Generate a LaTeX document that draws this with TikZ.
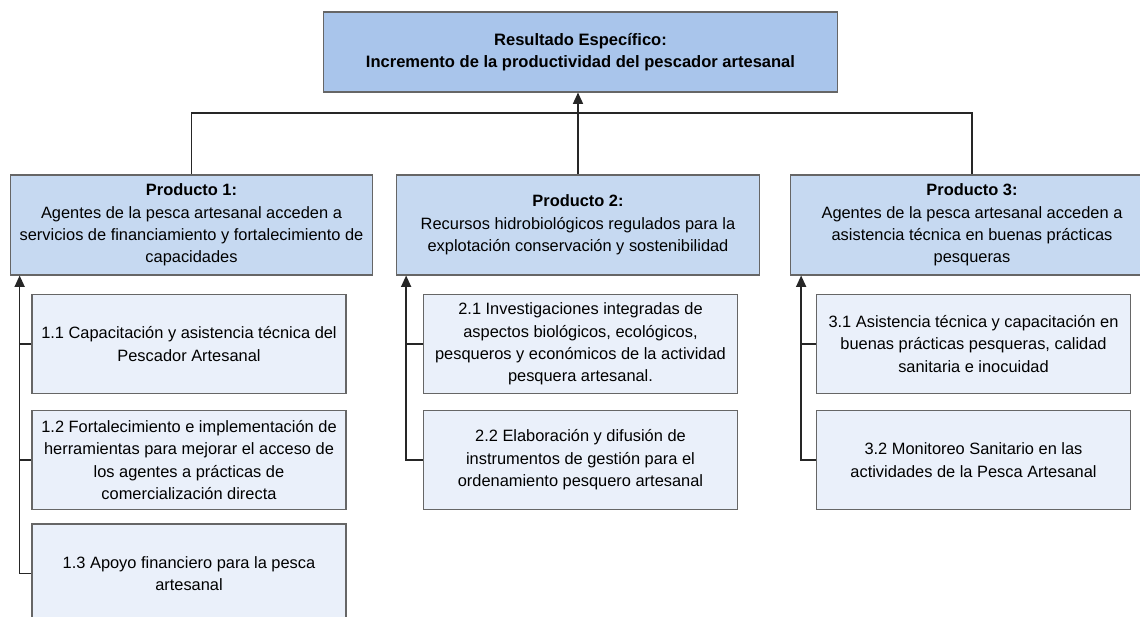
\documentclass[tikz,border=0pt]{standalone}
\usepackage{fontspec}
\setmainfont{Liberation Sans}
\usetikzlibrary{arrows.meta}

\definecolor{azulA}{HTML}{A9C5EB}
\definecolor{azulB}{HTML}{C6D9F1}
\definecolor{azulC}{HTML}{EAF0FA}

\begin{document}
\begin{tikzpicture}[
        x=0.75pt, y=-0.75pt,
        font=\fontsize{12.3}{16.8}\selectfont,
        caja/.style={
            draw=black!60,
            line width=0.8pt,
            align=center,
            inner sep=0pt
        },
        resultado/.style={caja, fill=azulA, minimum width=386pt, minimum height=60pt,
            font=\bfseries\fontsize{12.4}{16.5}\selectfont},
        producto/.style={caja, fill=azulB, minimum width=272pt, minimum height=75pt},
        actividad/.style={caja, fill=azulC, minimum width=235.5pt, minimum height=74.25pt},
        linea/.style={line width=1.1pt, draw=black!85},
        flecha/.style={linea, -{Triangle[length=8.5pt,width=7.5pt]}}
    ]

    \useasboundingbox (0,0) rectangle (1140,617);

    % Encabezados en negrita
    \def\cabeza#1{{\bfseries #1}}

    % Resultado y productos
    \node[resultado] (res) at (580.5,52) {Resultado Específico:\\Incremento de la productividad del pescador artesanal};

    \node[producto] (p1) at (191.5,225) {\cabeza{Producto 1:}\\Agentes de la pesca artesanal acceden a\\servicios de financiamiento y fortalecimiento de\\capacidades};
    \node[producto] (p2) at (578,225) {\cabeza{Producto 2:}\\Recursos hidrobiológicos regulados para la\\explotación conservación y sostenibilidad};
    \node[producto] (p3) at (972,225) {\cabeza{Producto 3:}\\Agentes de la pesca artesanal acceden a\\asistencia técnica en buenas prácticas\\pesqueras};

    % Actividades
    \node[actividad] (a11) at (189,344) {1.1 Capacitación y asistencia técnica del\\Pescador Artesanal};
    \node[actividad] (a12) at (189,460) {1.2 Fortalecimiento e implementación de\\herramientas para mejorar el acceso de\\los agentes a prácticas de\\comercialización directa};
    \node[actividad] (a13) at (189,573.5) {1.3 Apoyo financiero para la pesca\\artesanal};

    \node[actividad] (a21) at (580.5,344) {2.1 Investigaciones integradas de\\aspectos biológicos, ecológicos,\\pesqueros y económicos de la actividad\\pesquera artesanal.};
    \node[actividad] (a22) at (580.5,460) {2.2 Elaboración y difusión de\\instrumentos de gestión para el\\ordenamiento pesquero artesanal};

    \node[actividad] (a31) at (973.5,344) {3.1 Asistencia técnica y capacitación en\\buenas prácticas pesqueras, calidad\\sanitaria e inocuidad};
    \node[actividad] (a32) at (973.5,460) {3.2 Monitoreo Sanitario en las\\actividades de la Pesca Artesanal};

    % Conectores superiores
    \coordinate (barra) at (0,113);
    \draw[flecha] (p2.north) -- (p2.north |- res.south);
    \draw[linea] (p1.north) -- (p1.north |- barra) -- (p3.north |- barra) -- (p3.north);

    % Conectores de actividades
    \coordinate (e1) at ([xshift=7.5pt]p1.south west);
    \coordinate (e2) at ([xshift=7.5pt]p2.south west);
    \coordinate (e3) at ([xshift=8.25pt]p3.south west);

    \draw[flecha] (a13.west) -| (e1);
    \draw[linea] (a11.west) -- (a11.west -| e1);
    \draw[linea] (a12.west) -- (a12.west -| e1);

    \draw[flecha] (a22.west) -| (e2);
    \draw[linea] (a21.west) -- (a21.west -| e2);

    \draw[flecha] (a32.west) -| (e3);
    \draw[linea] (a31.west) -- (a31.west -| e3);

\end{tikzpicture}
\end{document}
